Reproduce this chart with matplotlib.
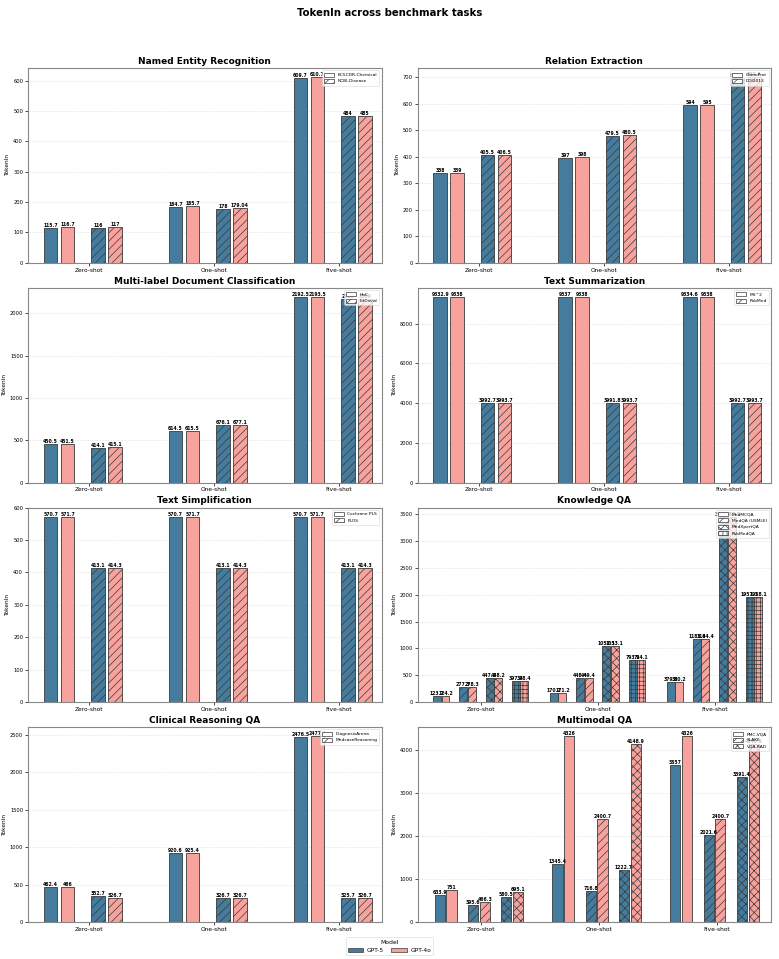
import matplotlib
matplotlib.use('Agg')
import matplotlib.pyplot as plt
from matplotlib.patches import Patch
import numpy as np

# ---------------- data ----------------
shots = ['Zero-shot', 'One-shot', 'Five-shot']
models = ['GPT-5', 'GPT-4o']

ner_datasets = ['BC5CDR-Chemical', 'NCBI-Disease']
ner_gpt5 = [[115.7, 184.7, 609.7], [116, 178, 484]]
ner_gpt4o = [[116.7, 185.7, 610.7], [117, 179.04, 485]]

re_datasets = ['ChemProt', 'DDI2013']
re_gpt5 = [[338, 397, 594], [405.5, 479.5, 698.5]]
re_gpt4o = [[339, 398, 595], [406.5, 480.5, 699.5]]

mldc_datasets = ['HoC', 'LitCovid']
mldc_gpt5 = [[450.5, 614.5, 2192.5], [414.1, 676.1, 2168]]
mldc_gpt4o = [[451.5, 615.5, 2193.5], [415.1, 677.1, 2169]]

ts_datasets = ['MS^2', 'PubMed']
ts_gpt5 = [[9332.9, 9337, 9334.6], [3992.7, 3991.8, 3992.7]]
ts_gpt4o = [[9338, 9338, 9338], [3993.7, 3993.7, 3993.7]]

tsimp_datasets = ['Cochrane PLS', 'PLOS']
tsimp_gpt5 = [[570.7, 570.7, 570.7], [413.1, 413.1, 413.1]]
tsimp_gpt4o = [[571.7, 571.7, 571.7], [414.3, 414.3, 414.3]]

kqa_datasets = ['MedMCQA', 'MedQA (USMLE)', 'MedXpertQA', 'PubMedQA']
kqa_gpt5 = [[123.2, 170.2, 379.2], [277.3, 448.4, 1183.4],
            [447.2, 1052.1, 3446.5], [397.4, 793.1, 1957.1]]
kqa_gpt4o = [[124.2, 171.2, 380.2], [278.3, 449.4, 1184.4],
             [448.2, 1053.1, 3447.5], [398.4, 794.1, 1958.1]]

crqa_datasets = ['DiagnosisArena', 'MedcaseReasoning']
crqa_gpt5 = [[462.4, 920.6, 2476.5], [352.7, 326.7, 325.7]]
crqa_gpt4o = [[466, 925.4, 2477.5], [326.7, 326.7, 326.7]]

mmqa_datasets = ['PMC-VQA', 'SLAKE', 'VQA-RAD']
mmqa_gpt5 = [[633.9, 1345.4, 3657], [395.6, 716.8, 2021.6], [580.5, 1222.7, 3391.4]]
mmqa_gpt4o = [[751, 4326, 4326], [466.3, 2400.7, 2400.7], [695.1, 4148.9, 4148.9]]

# ---------------- style ----------------
BLUE = '#457b9d'
SALMON = '#f8a29d'
EDGE = '#3a3a3a'
HATCHES = ['', '////', 'xxxx', '++++']
plt.rcParams['hatch.linewidth'] = 0.5

fig = plt.figure(figsize=(7.79, 9.59), dpi=100)
gs = fig.add_gridspec(4, 2, left=0.036, right=0.990, top=0.929, bottom=0.0386,
                      wspace=0.102, hspace=0.128)

LAYOUT = {  # n datasets -> (bar gap, bar width, xlim)
    2: (0.136, 0.108, (-0.49, 2.34)),
    3: (0.100, 0.086, (-0.54, 2.46)),
    4: (0.072, 0.068, (-0.545, 2.48)),
}


def draw(ax, title, datasets, g5, g4o):
    n = len(datasets)
    slot = 1.1 / (n + 0.9)
    gap, width, xlim = LAYOUT[n]
    x = np.arange(len(shots))
    vmax = 0
    for i, ds in enumerate(datasets):
        pos = x + (i - n / 2) * slot + 0.07
        for vals, color, off in ((g5[i], BLUE, 0.0), (g4o[i], SALMON, gap)):
            bars = ax.bar(pos + off, vals, width, color=color, edgecolor=EDGE,
                          linewidth=0.6, hatch=HATCHES[i], zorder=2)
            for b, v in zip(bars, vals):
                ax.text(b.get_x() + b.get_width() / 2, v, f"{v:g}", ha='center',
                        va='bottom', fontsize=3.3, fontweight='bold', zorder=3)
            vmax = max(vmax, max(vals))
    ax.set_ylim(0, vmax * 1.05)
    ax.set_xlim(*xlim)
    ax.set_xticks(x)
    ax.set_xticklabels(shots, fontsize=4.2)
    ax.tick_params(axis='y', labelsize=3.7, length=2, width=0.5, pad=1.5)
    ax.tick_params(axis='x', length=2, width=0.5, pad=1.5)
    ax.set_ylabel('TokenIn', fontsize=4.2, labelpad=2)
    ax.set_title(title, fontsize=6.5, fontweight='bold', pad=3)
    ax.yaxis.grid(True, linestyle='--', linewidth=0.5, alpha=0.3)
    ax.set_axisbelow(True)
    for s in ax.spines.values():
        s.set_color('#888888')
        s.set_linewidth(0.8)
    handles = [Patch(facecolor='white', edgecolor=EDGE, linewidth=0.5,
                     hatch=HATCHES[i], label=ds) for i, ds in enumerate(datasets)]
    leg = ax.legend(handles=handles, loc='upper right', fontsize=3.2,
                    handlelength=2.2, handleheight=1.0, borderpad=0.5,
                    labelspacing=0.4, framealpha=0.8)
    leg.get_frame().set_linewidth(0.4)
    leg.set_zorder(5)


panels = [
    ('Named Entity Recognition', ner_datasets, ner_gpt5, ner_gpt4o),
    ('Relation Extraction', re_datasets, re_gpt5, re_gpt4o),
    ('Multi-label Document Classification', mldc_datasets, mldc_gpt5, mldc_gpt4o),
    ('Text Summarization', ts_datasets, ts_gpt5, ts_gpt4o),
    ('Text Simplification', tsimp_datasets, tsimp_gpt5, tsimp_gpt4o),
    ('Knowledge QA', kqa_datasets, kqa_gpt5, kqa_gpt4o),
    ('Clinical Reasoning QA', crqa_datasets, crqa_gpt5, crqa_gpt4o),
    ('Multimodal QA', mmqa_datasets, mmqa_gpt5, mmqa_gpt4o),
]

for k, (title, ds, g5, g4) in enumerate(panels):
    ax = fig.add_subplot(gs[k // 2, k % 2])
    draw(ax, title, ds, g5, g4)

fig.suptitle('TokenIn across benchmark tasks', fontsize=7.3, fontweight='bold', y=0.992)

model_handles = [Patch(facecolor=BLUE, edgecolor=EDGE, linewidth=0.5, label=models[0]),
                 Patch(facecolor=SALMON, edgecolor=EDGE, linewidth=0.5, label=models[1])]
fl = fig.legend(handles=model_handles, title='Model', loc='lower center',
                bbox_to_anchor=(0.5, 0.001), ncol=2, fontsize=4.2, title_fontsize=4.4,
                handlelength=2.6, columnspacing=1.3, borderpad=0.4, handletextpad=0.6,
                frameon=True)
fl.get_frame().set_linewidth(0.4)

fig.savefig('out.png', dpi=100)
